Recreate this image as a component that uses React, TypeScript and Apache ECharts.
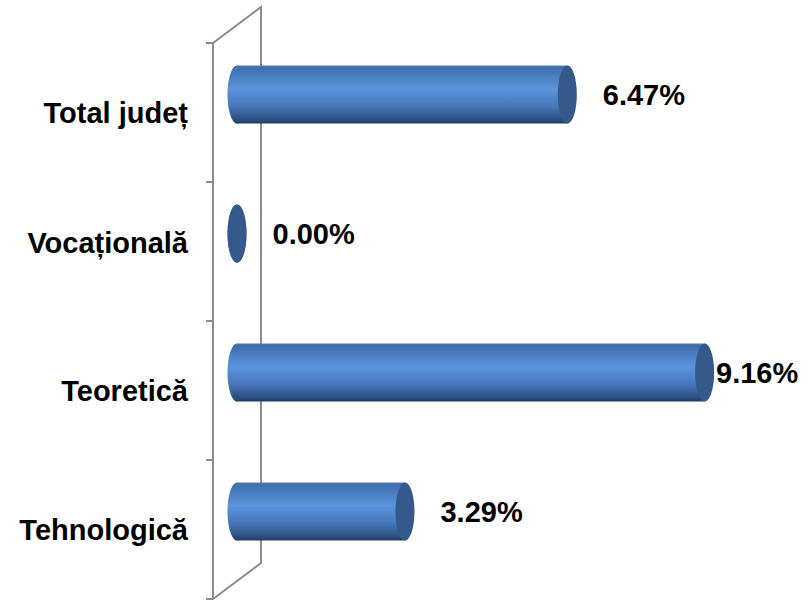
import React, { useEffect, useRef } from "react";
import * as echarts from "echarts";

const categories = ["Tehnologică", "Teoretică", "Vocațională", "Total județ"];
const values = [3.29, 9.16, 0.0, 6.47];

const FONT = "'Liberation Sans', Arial, sans-serif";
const AXIS_GRAY = "#8c8c8c";
const DEPTH_X = 48;
const DEPTH_Y = -36;

export default function App() {
  const ref = useRef<HTMLDivElement>(null);

  useEffect(() => {
    if (!ref.current) return;
    const chart = echarts.init(ref.current, null, { renderer: "svg" });

    const bodyGradient = new echarts.graphic.LinearGradient(0, 0, 0, 1, [
      { offset: 0, color: "#5a7aa8" },
      { offset: 0.04, color: "#3f6eae" },
      { offset: 0.4, color: "#5b94dc" },
      { offset: 0.7, color: "#4777bb" },
      { offset: 0.92, color: "#2d5283" },
      { offset: 1, color: "#213d63" },
    ]);

    const labelStyle = {
      fontSize: 29,
      fontWeight: "bold" as const,
      fontFamily: FONT,
      color: "#000",
    };

    const option: any = {
      animation: false,
      backgroundColor: "#fff",
      grid: { left: 213, top: 43, bottom: 7, right: 84.5, containLabel: false },
      xAxis: { type: "value", min: 0, max: 10, show: false },
      yAxis: {
        type: "category",
        data: categories,
        axisLine: { show: true, lineStyle: { color: AXIS_GRAY, width: 2 } },
        axisTick: { show: true, length: 7, lineStyle: { color: AXIS_GRAY, width: 2 } },
        splitLine: { show: false },
        axisLabel: {
          margin: 25,
          ...labelStyle,
          formatter: (v: string) => (v === "Vocațională" ? `{up|${v}}` : `{n|${v}}`),
          rich: {
            up: { ...labelStyle, padding: [0, 0, 18, 0] },
            n: { ...labelStyle },
          },
        },
      },
      series: [
        {
          type: "custom",
          coordinateSystem: "cartesian2d",
          data: [[0, 0]],
          encode: { x: 0, y: 1 },
          z: 1,
          silent: true,
          renderItem: (params: any, api: any) => {
            const band = api.size([0, 1])[1];
            const bottomC = api.coord([0, 0]);
            const topC = api.coord([0, categories.length - 1]);
            const x0 = bottomC[0];
            const yTop = topC[1] - band / 2;
            const yBot = bottomC[1] + band / 2;
            return {
              type: "polyline",
              shape: {
                points: [
                  [x0, yTop],
                  [x0 + DEPTH_X, yTop + DEPTH_Y],
                  [x0 + DEPTH_X, yBot + DEPTH_Y],
                  [x0, yBot],
                ],
              },
              style: { stroke: AXIS_GRAY, lineWidth: 2, fill: "none" },
            };
          },
        },
        {
          type: "custom",
          coordinateSystem: "cartesian2d",
          data: values.map((v, i) => [v, i]),
          encode: { x: 0, y: 1 },
          z: 2,
          renderItem: (params: any, api: any) => {
            const val = api.value(0);
            const idx = api.value(1);
            const band = api.size([0, 1])[1];
            const c0 = api.coord([0, idx]);
            const c1 = api.coord([val, idx]);
            const cy = c0[1] + DEPTH_Y / 2;
            const x0 = c0[0] + DEPTH_X / 2;
            const x1 = c1[0] + DEPTH_X / 2;
            const ry = band * 0.209;
            const rx = 9.5;
            const labelX = Math.min(x1 + rx + 26, api.getWidth() - 92);
            return {
              type: "group",
              children: [
                {
                  type: "ellipse",
                  shape: { cx: x0, cy, rx, ry },
                  style: { fill: bodyGradient },
                },
                {
                  type: "rect",
                  shape: { x: x0, y: cy - ry, width: Math.max(0, x1 - x0), height: ry * 2 },
                  style: { fill: bodyGradient },
                },
                {
                  type: "ellipse",
                  shape: { cx: x1, cy, rx, ry },
                  style: { fill: "#36598b" },
                },
                {
                  type: "text",
                  x: labelX,
                  y: cy,
                  style: {
                    text: val.toFixed(2) + "%",
                    fill: "#000",
                    fontSize: 29,
                    fontWeight: "bold",
                    fontFamily: FONT,
                    align: "left",
                    verticalAlign: "middle",
                  },
                },
              ],
            };
          },
        },
      ],
    };

    chart.setOption(option);
    return () => chart.dispose();
  }, []);

  return (
    <div
      ref={ref}
      style={{ position: "fixed", left: 0, top: 0, width: 808, height: 606 }}
    />
  );
}
